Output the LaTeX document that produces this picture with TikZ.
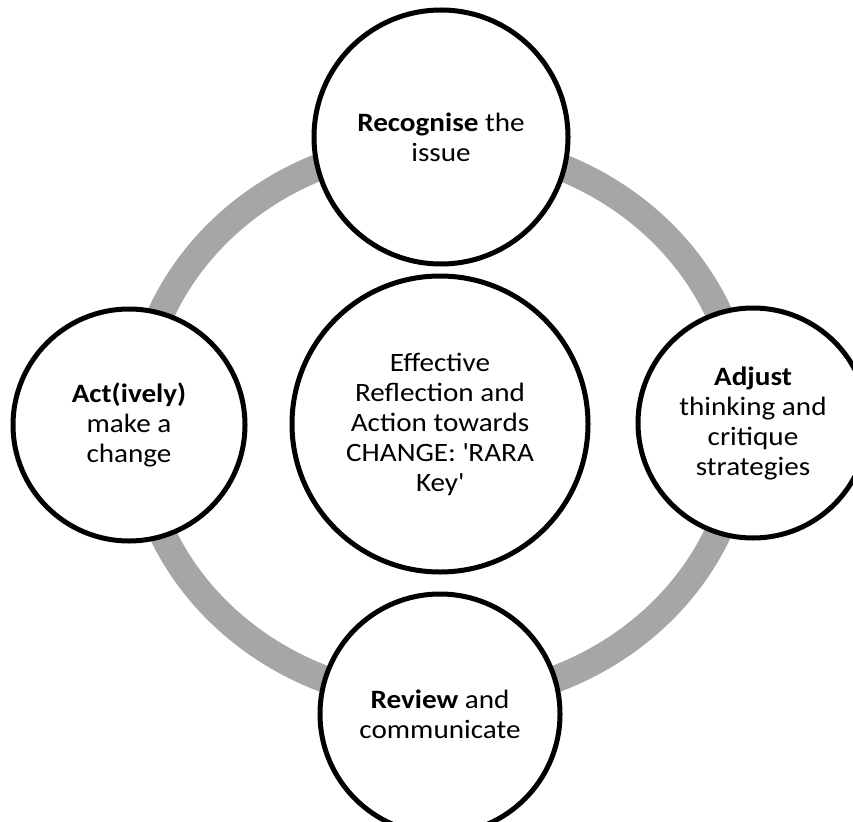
\documentclass[tikz,border=0pt]{standalone}
\usepackage{fontspec}
\setmainfont{Carlito}[FakeStretch=1.1]
\usepackage{tikz}
\definecolor{ringgrey}{RGB}{166,166,166}

\begin{document}
\begin{tikzpicture}[x=1pt,y=-1pt,
  stage/.style={circle,draw,line width=5pt,fill=white,align=center,
    inner sep=0pt,font=\fontsize{26.5}{30}\selectfont}]
\clip (0,0) rectangle (853,821);
%
\node[stage,minimum size=296pt] (core) at (440,424)
  {Effective\\Reflection and\\Action towards\\CHANGE: \textquotesingle RARA\\Key\textquotesingle};
%
\draw[ringgrey,line width=27pt] (440,422) ellipse [x radius=303pt,y radius=278pt];
%
\node[stage,minimum size=254pt] (recognise) at (441,137) {\textbf{Recognise} the\\issue};
\node[stage,minimum size=230pt] (adjust) at (753,423) {\textbf{Adjust}\\thinking and\\critique\\strategies};
\node[stage,minimum size=240pt] (review) at (440,714) {\textbf{Review} and\\communicate};
\node[stage,minimum size=232pt] (act) at (129,425) {\textbf{Act(ively)}\\make a\\change};
\end{tikzpicture}
\end{document}
